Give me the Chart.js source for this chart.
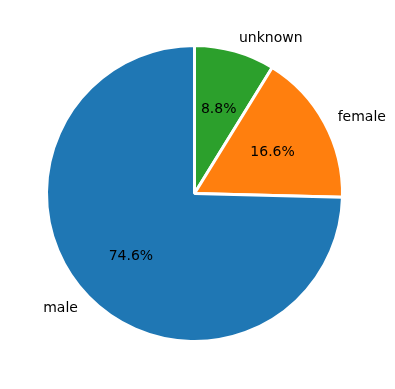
<!DOCTYPE html>
<html>
<head>
<meta charset="utf-8">
<script src="https://cdn.jsdelivr.net/npm/chart.js@4"></script>
<style>
html,body{margin:0;padding:0;background:#fff;}
canvas{display:block;}
</style>
</head>
<body>
<canvas id="c" width="395" height="389"></canvas>
<script>
const categories = ['male', 'female', 'unknown'];
const shares = [74.6, 16.6, 8.8];
const sliceColors = ['#1f77b4', '#ff7f0e', '#2ca02c'];

// matplotlib draws counterclockwise from the top; Chart.js draws clockwise,
// so feed the slices in reverse order.
const drawLabels = categories.slice().reverse();
const drawValues = shares.slice().reverse();
const drawColors = sliceColors.slice().reverse();

const labelPlugin = {
  id: 'pieLabels',
  afterDatasetsDraw(chart) {
    const ctx = chart.ctx;
    const meta = chart.getDatasetMeta(0);
    ctx.save();
    ctx.font = '14px "DejaVu Sans"';
    ctx.fillStyle = '#000';
    ctx.textBaseline = 'middle';
    meta.data.forEach((arc, i) => {
      const p = arc.getProps(['x', 'y', 'startAngle', 'endAngle', 'outerRadius'], true);
      const mid = (p.startAngle + p.endAngle) / 2;
      const c = Math.cos(mid), s = Math.sin(mid);
      // category label at 1.1 R
      ctx.textAlign = c > 0 ? 'left' : 'right';
      ctx.fillText(drawLabels[i], p.x + 1.1 * p.outerRadius * c, p.y + 1.1 * p.outerRadius * s + 1);
      // percentage at 0.6 R
      ctx.textAlign = 'center';
      ctx.fillText(drawValues[i].toFixed(1) + '%', p.x + 0.6 * p.outerRadius * c, p.y + 0.6 * p.outerRadius * s + 1);
    });
    ctx.restore();
  }
};

new Chart(document.getElementById('c'), {
  type: 'pie',
  data: {
    labels: drawLabels,
    datasets: [{
      data: drawValues,
      backgroundColor: drawColors,
      borderColor: '#ffffff',
      borderWidth: 3
    }]
  },
  options: {
    responsive: false,
    animation: false,
    layout: { padding: { left: 45, right: 51, top: 44, bottom: 46 } },
    plugins: {
      legend: { display: false },
      tooltip: { enabled: false }
    }
  },
  plugins: [labelPlugin]
});
</script>
</body>
</html>
